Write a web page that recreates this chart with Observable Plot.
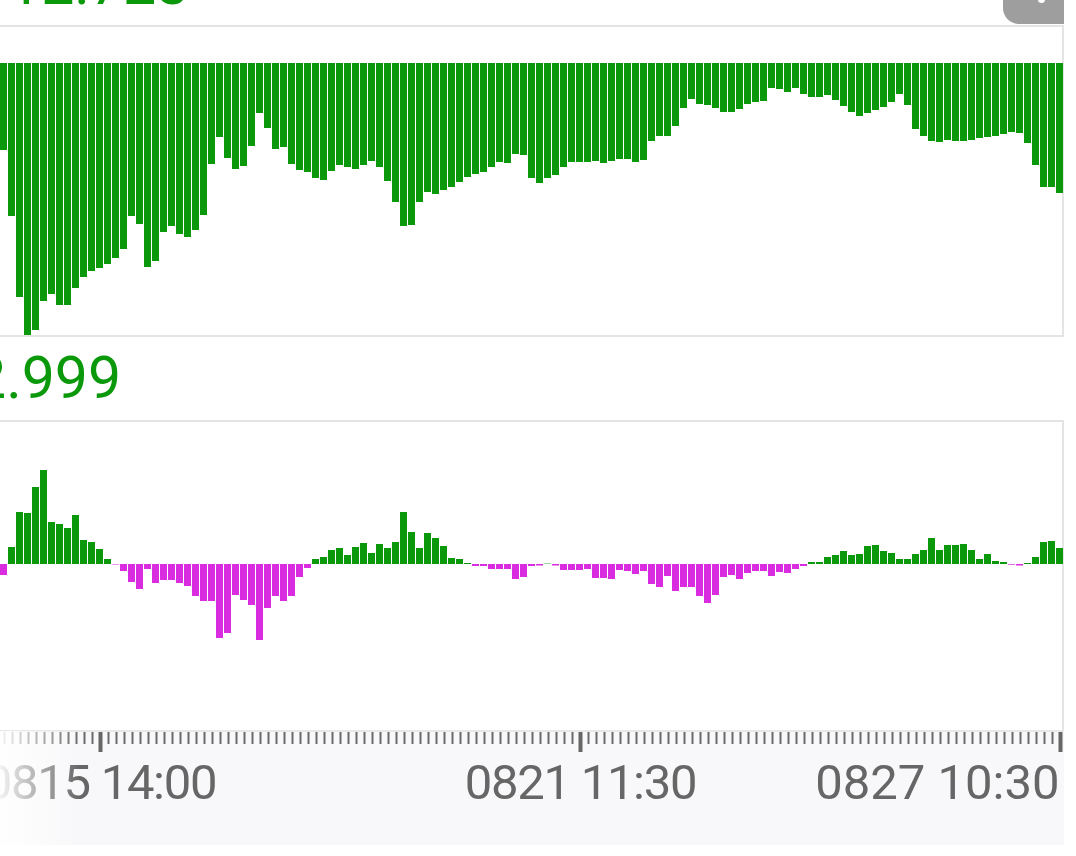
<!DOCTYPE html>
<html><head><meta charset="utf-8">
<script src="https://cdn.jsdelivr.net/npm/d3@7"></script>
<script src="https://cdn.jsdelivr.net/npm/@observablehq/plot@0.6"></script>
<style>
html,body{margin:0;padding:0;background:#fff;}
#root{position:relative;width:1076px;height:856px;overflow:hidden;font-family:Roboto,sans-serif;}
.abs{position:absolute;}
.val{position:absolute;font-size:59px;line-height:59px;color:#0b990b;white-space:nowrap;font-family:Roboto,sans-serif;}
.ln{position:absolute;background:#e4e4e4;}
</style></head><body>
<div id="root">
  <div class="val" style="left:8px;top:-46px">12.723</div>
  <div class="abs" style="left:1003px;top:-10px;width:61px;height:34px;background:#9e9e9e;border-bottom-left-radius:16px;"></div>
  <div class="abs" style="left:1038px;top:-4px;width:7px;height:7px;border-radius:4px;background:#fff"></div>

  <div class="ln" style="left:0;top:25px;width:1064px;height:2px"></div>
  <div class="ln" style="left:1062px;top:25px;width:2px;height:312px"></div>
  <div class="ln" style="left:0;top:335px;width:1064px;height:2px"></div>
  <div class="abs" id="top" style="left:0;top:25px;"></div>

  <div class="val" style="left:-27px;top:348px">2.999</div>

  <div class="ln" style="left:0;top:420px;width:1064px;height:2px"></div>
  <div class="ln" style="left:1062px;top:420px;width:2px;height:311px"></div>
  <div class="abs" id="bot" style="left:0;top:421px;"></div>

  <div class="abs" id="axis" style="left:0;top:731px;"></div>
  <div class="ln" style="left:0;top:730px;width:1064px;height:2px;background:#e8e8e8"></div>
  <div class="abs" style="left:0;top:731px;width:80px;height:114px;background:linear-gradient(to right, rgba(255,255,255,0.92), rgba(255,255,255,0));"></div>
</div>
<script>
// depth of each upper-panel bar (hanging from the top line)
const topDepth = [87,153,234,272,267,238,231,242,242,225,214,208,205,201,195,186,153,161,204,198,
169,163,171,174,167,152,101,74,95,106,103,83,50,65,86,84,101,107,109,115,
117,108,102,104,106,102,98,104,118,139,163,162,139,129,131,127,124,119,114,111,
109,104,99,100,91,92,115,120,115,112,104,99,99,99,98,100,98,96,96,99,
97,78,73,73,63,45,36,41,42,45,49,49,46,41,39,38,25,26,29,25,
31,34,34,32,37,43,49,53,50,47,44,39,31,42,66,73,78,79,77,78,
78,77,75,74,73,71,69,70,80,102,124,124,130];
// lower-panel histogram values (positive up, negative down)
const histValues = [-11,17,52,51,77,94,42,40,36,49,24,22,15,5,-0.5,-7,-18,-25,-5,-19,
-16,-16,-19,-22,-32,-37,-37,-74,-69,-31,-36,-41,-76,-44,-32,-37,-32,-13,-4,5,
7,14,16,9,17,21,11,20,16,22,52,32,16,31,26,18,6,5,1,-2,
-2,-5,-5,-5,-15,-13,-2,-1.5,0.4,-1.5,-6,-6,-6,-5,-14,-14,-15,-6,-7,-10,
-7,-20,-23,-12,-27,-23,-23,-32,-39,-31,-13,-11,-15,-9,-7,-7,-12,-8,-9,-5,
-2,2,2,7,9,13,9,10,18,19,13,11,5,5,10,14,26,14,19,19,
20,14,5,10,3,2,-0.7,-1.5,1,7,22,23,16];
const tickIndex = [12, 72, 132];
const tickLabels = ["0815 14:00", "0821 11:30", "0827 10:30"];

const green = "#0b990b", magenta = "#d92ce0";
const N = topDepth.length;
const xDef = {domain: [0, N], range: [0, 1064], axis: null};

const topData = topDepth.map((v, i) => ({i, v}));
const histData = histValues.map((v, i) => ({i, v}));
const labelData = tickIndex.map((i, k) => ({i, label: tickLabels[k]}));

const topPlot = Plot.plot({
  width: 1064, height: 312, margin: 0,
  x: xDef,
  y: {domain: [0, 272], range: [38, 310], axis: null},
  style: {background: "transparent"},
  marks: [
    Plot.rect(topData, {x1: "i", x2: d => d.i + 1, y1: 0, y2: "v", fill: green, insetRight: 1})
  ]
});
document.getElementById("top").appendChild(topPlot);

const botPlot = Plot.plot({
  width: 1064, height: 310, margin: 0,
  x: xDef,
  y: {domain: [-167, 143], range: [310, 0], axis: null},
  style: {background: "transparent"},
  marks: [
    Plot.rect(histData.filter(d => d.v >= 0), {x1: "i", x2: d => d.i + 1, y1: 0, y2: "v", fill: green, insetRight: 1}),
    Plot.rect(histData.filter(d => d.v < 0), {x1: "i", x2: d => d.i + 1, y1: 0, y2: "v", fill: magenta, insetRight: 1})
  ]
});
document.getElementById("bot").appendChild(botPlot);

const axisPlot = Plot.plot({
  width: 1064, height: 114, marginTop: 1, marginBottom: 93, marginLeft: 0, marginRight: 0,
  x: xDef,
  style: {background: "#f8f8fa", fontFamily: "Roboto", letterSpacing: "-1.3px"},
  marks: [
    Plot.tickX(d3.range(N), {x: d => d + 0.5, stroke: "#6a6a6a", strokeWidth: 2, insetBottom: 8}),
    Plot.tickX(tickIndex, {x: d => d + 0.5, stroke: "#666", strokeWidth: 4}),
    Plot.text(labelData.slice(0, 2), {x: d => d.i + 0.5, text: "label", frameAnchor: "bottom", dy: 46, lineAnchor: "bottom", fontSize: 49, fill: "#666", textAnchor: "middle"}),
    Plot.text(labelData.slice(2), {x: d => d.i + 0.5, text: "label", frameAnchor: "bottom", dy: 46, dx: -1, lineAnchor: "bottom", fontSize: 49, fill: "#666", textAnchor: "end"})
  ]
});
const textGroups = axisPlot.querySelectorAll('g[aria-label="text"]');
if (textGroups.length > 1) textGroups[1].style.letterSpacing = "0px";
document.getElementById("axis").appendChild(axisPlot);
</script>
</body></html>
